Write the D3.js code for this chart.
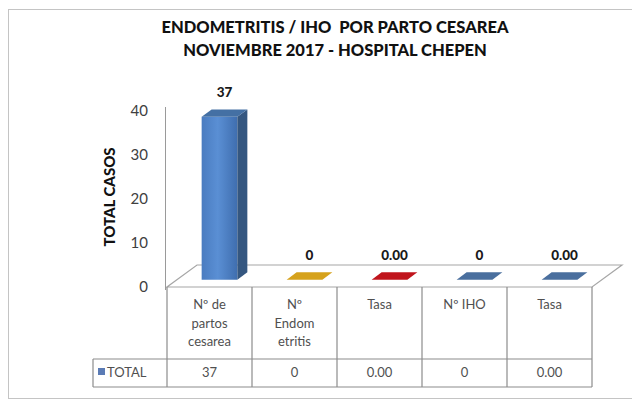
<!DOCTYPE html>
<html>
<head>
<meta charset="utf-8">
<script src="https://cdn.jsdelivr.net/npm/d3@7"></script>
<style>
    body { margin: 0; background: #fff; }
    text { font-family: Lato, "Open Sans", sans-serif; }
</style>
</head>
<body>
<svg id="chart" width="632" height="402"></svg>
<script>
// data
var categories = ["Nº de partos cesarea", "Nº Endometritis", "Tasa", "Nº IHO", "Tasa"];
var headerLines = [["Nº de", "partos", "cesarea"], ["Nº", "Endom", "etritis"], ["Tasa"], ["Nº IHO"], ["Tasa"]];
var values = [37, 0, 0, 0, 0];
var labels = ["37", "0", "0.00", "0", "0.00"];
var yTicks = [0, 10, 20, 30, 40];
var seriesName = "TOTAL";
var colors = ["#4f81bd", "#d6a21c", "#c0141c", "#4a6f9e", "#4a6f9e"];

var svg = d3.select("#chart");

// outer chart frame
svg.append("rect")
    .attr("x", 8.5).attr("y", 9.5)
    .attr("width", 640).attr("height", 389)
    .attr("fill", "#fff")
    .attr("stroke", "#c4c4c4");

// title
var title = svg.append("text")
    .attr("text-anchor", "middle")
    .attr("font-weight", "900")
    .attr("font-size", 16.5)
    .attr("fill", "#111")
    .style("white-space", "pre");
title.append("tspan").attr("x", 335).attr("y", 33).text("ENDOMETRITIS / IHO  POR PARTO CESAREA");
title.append("tspan").attr("x", 335).attr("y", 56).text("NOVIEMBRE 2017 - HOSPITAL CHEPEN");

var x = d3.scaleBand().domain(d3.range(categories.length)).range([167, 592]);
var y = d3.scaleLinear().domain([0, 40]).range([287, 111]);

// depth of the 3d floor
var depthX = 30, depthY = -22;
function proj(px, v, z) {
    return [px + depthX * z, y(v) + depthY * z];
}

// floor
var floor = [proj(167, 0, 0), proj(592, 0, 0), proj(592, 0, 1), proj(167, 0, 1)];
svg.append("polygon")
    .attr("points", floor.map(function (p) { return p.join(","); }).join(" "))
    .attr("fill", "#fff")
    .attr("stroke", "#a6a6a6")
    .attr("stroke-width", 1.2);

// y axis
svg.append("g")
    .attr("transform", "translate(165,0)")
    .call(d3.axisLeft(y).tickValues(yTicks).tickSize(0).tickPadding(17))
    .call(function (g) {
        g.select(".domain").attr("stroke", "#9a9a9a").attr("d", "M0.5,107V290");
        g.selectAll("text")
            .attr("font-size", 15)
            .attr("fill", "#404040")
            .style("font-family", "Lato, sans-serif");
    });

svg.append("text")
    .attr("transform", "translate(115,197) rotate(-90)")
    .attr("text-anchor", "middle")
    .attr("font-weight", "900")
    .attr("font-size", 15)
    .attr("fill", "#111")
    .text("TOTAL CASOS");

// bars
var defs = svg.append("defs");
var grad = defs.append("linearGradient").attr("id", "frontGrad");
grad.append("stop").attr("offset", "0%").attr("stop-color", "#4a7cc0");
grad.append("stop").attr("offset", "45%").attr("stop-color", "#5a8fd4");
grad.append("stop").attr("offset", "100%").attr("stop-color", "#3f6eaf");

var barW = x.bandwidth() * 0.42;
var zf = 1 / 3, zb = 2 / 3;

function pts(arr) {
    return arr.map(function (p) { return p.join(","); }).join(" ");
}

values.forEach(function (v, i) {
    var xl = x(i) + (x.bandwidth() - barW) / 2,
        xr = xl + barW;
    var g = svg.append("g");
    var base = d3.color(colors[i]);
    if (v > 0) {
        g.append("polygon")
            .attr("points", pts([proj(xl, 0, zf), proj(xr, 0, zf), proj(xr, v, zf), proj(xl, v, zf)]))
            .attr("fill", i === 0 ? "url(#frontGrad)" : colors[i]);
        g.append("polygon")
            .attr("points", pts([proj(xr, 0, zf), proj(xr, 0, zb), proj(xr, v, zb), proj(xr, v, zf)]))
            .attr("fill", base.darker(1.1));
    }
    g.append("polygon")
        .attr("points", pts([proj(xl, v, zf), proj(xr, v, zf), proj(xr, v, zb), proj(xl, v, zb)]))
        .attr("fill", v > 0 ? base.darker(0.4) : base);

    var lp = proj(x(i) + x.bandwidth() / 2, v, 0.5);
    svg.append("text")
        .attr("x", lp[0])
        .attr("y", lp[1] - 16)
        .attr("text-anchor", "middle")
        .attr("font-weight", "900")
        .attr("font-size", 13.5)
        .attr("fill", "#1a1a1a")
        .text(labels[i]);
});

// data table
var tTop = 287, tMid = 359, tBot = 387, labelLeft = 93;
var table = svg.append("g")
    .attr("fill", "none")
    .attr("stroke", "#8c8c8c")
    .attr("stroke-width", 1.2);
table.append("line").attr("x1", labelLeft).attr("x2", 592).attr("y1", tMid).attr("y2", tMid);
table.append("line").attr("x1", labelLeft).attr("x2", 592).attr("y1", tBot).attr("y2", tBot);
table.append("line").attr("x1", labelLeft).attr("x2", labelLeft).attr("y1", tMid).attr("y2", tBot);
d3.range(categories.length + 1).forEach(function (i) {
    var cx = i < categories.length ? x(i) : x.range()[1];
    table.append("line").attr("x1", cx).attr("x2", cx).attr("y1", tTop).attr("y2", tBot);
});

headerLines.forEach(function (lines, i) {
    lines.forEach(function (s, j) {
        svg.append("text")
            .attr("x", x(i) + x.bandwidth() / 2)
            .attr("y", 309 + j * 18.5)
            .attr("text-anchor", "middle")
            .attr("font-size", 13)
            .attr("fill", "#505050")
            .text(s);
    });
    svg.append("text")
        .attr("x", x(i) + x.bandwidth() / 2)
        .attr("y", 377)
        .attr("text-anchor", "middle")
        .attr("font-size", 13)
        .attr("fill", "#505050")
        .text(labels[i]);
});

svg.append("rect")
    .attr("x", 98).attr("y", 368)
    .attr("width", 7).attr("height", 7)
    .attr("fill", "#5b7bb5");
svg.append("text")
    .attr("x", 107).attr("y", 377)
    .attr("font-size", 13)
    .attr("fill", "#505050")
    .text(seriesName);
</script>
</body>
</html>
